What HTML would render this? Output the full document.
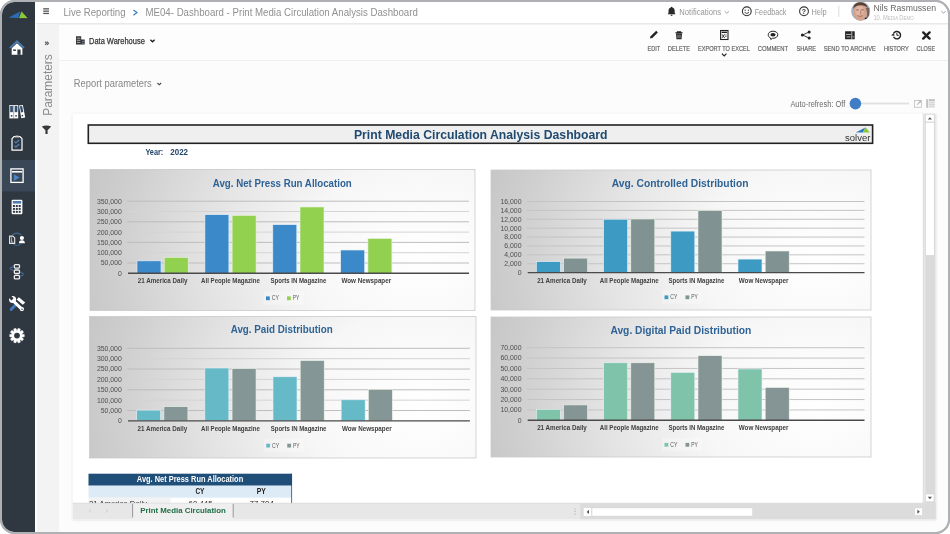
<!DOCTYPE html>
<html><head><meta charset="utf-8"><title>Print Media Circulation Analysis Dashboard</title>
<style>html,body{margin:0;padding:0;background:#fff;overflow:hidden;width:950px;height:534px}
svg{display:block;font-family:"Liberation Sans",sans-serif;will-change:transform}</style></head>
<body><svg width="950" height="534" viewBox="0 0 950 534">
<defs>
<clipPath id="frameclip"><rect x="2" y="2" width="946" height="530" rx="12.5" ry="12.5"/></clipPath>
<radialGradient id="cg" cx="0.86" cy="0.62" r="1" fx="0.86" fy="0.62" gradientTransform="translate(0.86 0.62) scale(1 2.2) translate(-0.86 -0.62)">
 <stop offset="0" stop-color="#ffffff"/>
 <stop offset="0.3" stop-color="#f7f7f7"/>
 <stop offset="0.55" stop-color="#e4e4e4"/>
 <stop offset="0.8" stop-color="#cecece"/>
 <stop offset="1" stop-color="#c0c0c0"/>
</radialGradient>
<linearGradient id="avatarg" x1="0" y1="0" x2="0" y2="1">
 <stop offset="0" stop-color="#6b5a50"/><stop offset="0.5" stop-color="#c99a80"/><stop offset="1" stop-color="#5a6a80"/>
</linearGradient>
<filter id="sh" x="-5%" y="-5%" width="110%" height="110%"><feDropShadow dx="0" dy="0.5" stdDeviation="1" flood-color="#000" flood-opacity="0.18"/></filter>
</defs>
<rect x="0.00" y="0.00" width="950.00" height="534.00" fill="#ffffff" />
<rect x="1" y="1" width="948" height="532" rx="13.5" ry="13.5" fill="#f8f8f8" stroke="#aeb0b4" stroke-width="2"/>
<g clip-path="url(#frameclip)">
<rect x="2.00" y="2.00" width="946.00" height="530.00" fill="#fcfcfc" />
<rect x="2.00" y="2.00" width="946.00" height="21.00" fill="#ffffff" />
<line x1="2.00" y1="23.60" x2="948.00" y2="23.60" stroke="#e9e9e9" stroke-width="1.2" />
<line x1="2.00" y1="24.70" x2="948.00" y2="24.70" stroke="#f1f1f1" stroke-width="1" />
<rect x="37.00" y="25.00" width="911.00" height="35.00" fill="#fdfdfd" />
<line x1="37.00" y1="60.50" x2="948.00" y2="60.50" stroke="#efefef" stroke-width="1" />
<rect x="2.00" y="2.00" width="33.00" height="530.00" fill="#2f3741" />
<rect x="2.00" y="160.00" width="33.00" height="31.50" fill="#3a4756" />
<line x1="35.60" y1="2.00" x2="35.60" y2="532.00" stroke="#ffffff" stroke-width="1.2" />
<rect x="37.20" y="24.00" width="21.90" height="508.00" fill="#f3f3f3" />
<rect x="43.20" y="8.20" width="5.80" height="1.30" fill="#555555" />
<rect x="43.20" y="10.50" width="5.80" height="1.30" fill="#555555" />
<rect x="43.20" y="12.80" width="5.80" height="1.30" fill="#555555" />
<text x="63.40" y="15.80" font-family="Liberation Sans" font-size="10.2" font-weight="normal" fill="#909090" text-anchor="start" textLength="62.10" lengthAdjust="spacingAndGlyphs" >Live Reporting</text>
<path d="M133.4 10 L137 12.6 L133.4 15.2" fill="none" stroke="#3d7fc2" stroke-width="1.2"/>
<text x="145.50" y="15.80" font-family="Liberation Sans" font-size="10.2" font-weight="normal" fill="#909090" text-anchor="start" textLength="272.30" lengthAdjust="spacingAndGlyphs" >ME04- Dashboard - Print Media Circulation Analysis Dashboard</text>
<path d="M671.6 6.8 c-0.5 0 -0.8 0.4 -0.8 0.8 c-1.6 0.4 -2.3 1.8 -2.3 3.3 v2.2 l-0.9 1.2 h8 l-0.9 -1.2 v-2.2 c0 -1.5 -0.7 -2.9 -2.3 -3.3 c0 -0.4 -0.3 -0.8 -0.8 -0.8z M670.5 14.8 a1.1 1.1 0 0 0 2.2 0z" fill="#2a2a2a"/>
<text x="679.30" y="14.90" font-family="Liberation Sans" font-size="8.6" font-weight="normal" fill="#969696" text-anchor="start" textLength="41.70" lengthAdjust="spacingAndGlyphs" >Notifications</text>
<path d="M724.6 11.3 l2.2 2 l2.2 -2" fill="none" stroke="#9a9a9a" stroke-width="0.9"/>
<circle cx="746.8" cy="11.3" r="4.4" fill="none" stroke="#333" stroke-width="1.1"/>
<circle cx="745.2" cy="10.2" r="0.65" fill="#333"/><circle cx="748.4" cy="10.2" r="0.65" fill="#333"/>
<path d="M744.6 12.3 q2.2 2.4 4.4 0" fill="none" stroke="#333" stroke-width="0.9"/>
<text x="754.70" y="14.90" font-family="Liberation Sans" font-size="8.6" font-weight="normal" fill="#969696" text-anchor="start" textLength="31.80" lengthAdjust="spacingAndGlyphs" >Feedback</text>
<circle cx="804" cy="11.3" r="4.4" fill="none" stroke="#333" stroke-width="1.1"/>
<text x="804.00" y="13.90" font-family="Liberation Sans" font-size="7" font-weight="bold" fill="#333" text-anchor="middle" >?</text>
<text x="811.50" y="14.90" font-family="Liberation Sans" font-size="8.6" font-weight="normal" fill="#969696" text-anchor="start" textLength="15.20" lengthAdjust="spacingAndGlyphs" >Help</text>
<line x1="838.80" y1="5.70" x2="838.80" y2="17.00" stroke="#dddddd" stroke-width="1" />
<clipPath id="avc"><circle cx="860.7" cy="11.2" r="9.5"/></clipPath>
<g clip-path="url(#avc)"><rect x="850" y="0" width="22" height="22" fill="#a9afbd"/>
<ellipse cx="860.3" cy="12.3" rx="6.6" ry="8.6" fill="#d5a28e"/>
<ellipse cx="859.6" cy="11" rx="4.2" ry="5.5" fill="#e2b4a2"/>
<path d="M853.2 9 q0 -6.8 7.2 -6.8 q6.6 0 7.6 6.6 q-1.8 -3.4 -7.4 -3.6 q-5.4 0.2 -7.4 3.8z" fill="#5a4236"/>
<path d="M865.6 8 q2.6 4 0.6 12 l3 0 v-12z" fill="#6b5046" opacity="0.8"/>
<path d="M856.3 9.9 h2.2 M861.3 9.9 h2.2" stroke="#7a5548" stroke-width="0.9"/>
<path d="M860.5 10.5 l0.6 3.5 h-1" fill="none" stroke="#a06e5e" stroke-width="0.7"/>
<path d="M857.5 15.6 q2.6 1.6 5 0" fill="none" stroke="#9a5e50" stroke-width="0.8"/>
<circle cx="866" cy="18.6" r="1.2" fill="#222"/></g>
<text x="873.40" y="10.90" font-family="Liberation Sans" font-size="8.8" font-weight="normal" fill="#666666" text-anchor="start" textLength="62.70" lengthAdjust="spacingAndGlyphs" >Nils Rasmussen</text>
<text x="873.4" y="19.8" font-family="Liberation Sans" fill="#bdbdbd" textLength="40.4" lengthAdjust="spacingAndGlyphs"><tspan font-size="6.4">10. M</tspan><tspan font-size="5">EDIA </tspan><tspan font-size="6.4">D</tspan><tspan font-size="5">EMO</tspan></text>
<path d="M941.3 11 l2.2 2.2 l2.2 -2.2" fill="none" stroke="#999" stroke-width="0.9"/>
<path d="M76 36.2 h5.2 v8.4 h-5.2z M81.2 39.4 h3.5 v5.2 h-3.5z" fill="#333"/>
<path d="M76.8 38.2 h3.6 M76.8 40.3 h3.6 M76.8 42.4 h3.6" stroke="#ddd" stroke-width="0.7"/>
<path d="M81.9 41.3 h2.1 M81.9 43.2 h2.1" stroke="#7d9cc8" stroke-width="0.8"/>
<text x="89.00" y="44.00" font-family="Liberation Sans" font-size="9" font-weight="normal" fill="#333333" text-anchor="start" textLength="55.80" lengthAdjust="spacingAndGlyphs" stroke="#333" stroke-width="0.25">Data Warehouse</text>
<path d="M150.4 39.7 l2.1 2.1 l2.1 -2.1" fill="none" stroke="#222" stroke-width="1.4"/>
<text x="647.60" y="51.20" font-family="Liberation Sans" font-size="7.5" font-weight="normal" fill="#606060" text-anchor="start" textLength="12.60" lengthAdjust="spacingAndGlyphs" stroke="#606060" stroke-width="0.18">EDIT</text>
<text x="667.80" y="51.20" font-family="Liberation Sans" font-size="7.5" font-weight="normal" fill="#606060" text-anchor="start" textLength="22.20" lengthAdjust="spacingAndGlyphs" stroke="#606060" stroke-width="0.18">DELETE</text>
<text x="698.00" y="51.20" font-family="Liberation Sans" font-size="7.5" font-weight="normal" fill="#606060" text-anchor="start" textLength="51.80" lengthAdjust="spacingAndGlyphs" stroke="#606060" stroke-width="0.18">EXPORT TO EXCEL</text>
<text x="757.80" y="51.20" font-family="Liberation Sans" font-size="7.5" font-weight="normal" fill="#606060" text-anchor="start" textLength="30.30" lengthAdjust="spacingAndGlyphs" stroke="#606060" stroke-width="0.18">COMMENT</text>
<text x="796.40" y="51.20" font-family="Liberation Sans" font-size="7.5" font-weight="normal" fill="#606060" text-anchor="start" textLength="19.70" lengthAdjust="spacingAndGlyphs" stroke="#606060" stroke-width="0.18">SHARE</text>
<text x="823.70" y="51.20" font-family="Liberation Sans" font-size="7.5" font-weight="normal" fill="#606060" text-anchor="start" textLength="52.20" lengthAdjust="spacingAndGlyphs" stroke="#606060" stroke-width="0.18">SEND TO ARCHIVE</text>
<text x="883.90" y="51.20" font-family="Liberation Sans" font-size="7.5" font-weight="normal" fill="#606060" text-anchor="start" textLength="24.80" lengthAdjust="spacingAndGlyphs" stroke="#606060" stroke-width="0.18">HISTORY</text>
<text x="916.60" y="51.20" font-family="Liberation Sans" font-size="7.5" font-weight="normal" fill="#606060" text-anchor="start" textLength="18.50" lengthAdjust="spacingAndGlyphs" stroke="#606060" stroke-width="0.18">CLOSE</text>
<path d="M650 38.6 l0.6 -2.3 l5.6 -5.6 l1.7 1.7 l-5.6 5.6z" fill="#222"/>
<path d="M675.4 32.2 h7.2 v1 h-7.2z M676.9 31.3 h4.2 v1 h-4.2z M676 33.6 h6 l-0.5 5.6 h-5z" fill="#222"/>
<path d="M677.8 34.6 v3.6 M679 34.6 v3.6 M680.2 34.6 v3.6" stroke="#fff" stroke-width="0.4"/>
<rect x="720.6" y="30.5" width="7.4" height="9" fill="none" stroke="#222" stroke-width="1.1"/>
<rect x="721.6" y="31.6" width="5.4" height="1.4" fill="#222"/>
<path d="M722 34.3 l2.6 3.6 M724.6 34.3 l-2.6 3.6" stroke="#222" stroke-width="0.9"/>
<path d="M725 35 h1.6 M725 36.6 h1.6" stroke="#222" stroke-width="0.6"/>
<path d="M721.9 53.6 l2.3 2.3 l2.3 -2.3" fill="none" stroke="#222" stroke-width="1.2"/>
<path d="M773 31.2 c-2.8 0 -4.8 1.6 -4.8 3.6 c0 1.4 0.9 2.5 2.3 3.1 l0.3 1.6 l1.6 -1.2 c0.2 0 0.4 0 0.6 0 c2.8 0 4.8 -1.6 4.8 -3.6 s-2 -3.5 -4.8 -3.5z" fill="none" stroke="#222" stroke-width="1"/>
<ellipse cx="773" cy="34.7" rx="2.6" ry="1.8" fill="#222"/>
<path d="M802.6 35 L809 32 M802.6 35 L809 38" stroke="#222" stroke-width="0.9"/>
<circle cx="802.4" cy="35" r="1.5" fill="#222"/><circle cx="809.2" cy="32" r="1.5" fill="#222"/><circle cx="809.2" cy="38" r="1.5" fill="#222"/>
<path d="M845.1 31.3 h9.6 v8 h-9.6z" fill="#222"/>
<path d="M851.8 31.3 v8 M846 34.4 h5 M846.6 36.9 h3.8 M852.6 36.9 h1.2" stroke="#fff" stroke-width="0.7"/>
<path d="M893.6 33.4 A3.7 3.7 0 1 1 893.5 36.8" fill="none" stroke="#222" stroke-width="1.4"/>
<path d="M896.9 32.9 v2.4 h1.9" fill="none" stroke="#222" stroke-width="1"/>
<path d="M891.2 35.4 l2.4 -2.4 l1 2.8z" fill="#222"/>
<path d="M923.2 32.4 l6.4 6.2 M929.6 32.4 l-6.4 6.2" stroke="#222" stroke-width="2.4" stroke-linecap="round"/>
<text x="73.80" y="87.30" font-family="Liberation Sans" font-size="10.6" font-weight="normal" fill="#878787" text-anchor="start" textLength="78.00" lengthAdjust="spacingAndGlyphs" >Report parameters</text>
<path d="M157.5 83 l1.8 1.8 l1.8 -1.8" fill="none" stroke="#444" stroke-width="1.1"/>
<text x="790.40" y="106.50" font-family="Liberation Sans" font-size="8.3" font-weight="normal" fill="#6a6a6a" text-anchor="start" textLength="54.90" lengthAdjust="spacingAndGlyphs" >Auto-refresh: Off</text>
<rect x="860.00" y="102.60" width="49.00" height="1.80" fill="#e0e0e0" />
<circle cx="855.4" cy="103.6" r="5.8" fill="#3f7dc4"/>
<rect x="914.5" y="100.4" width="6.9" height="6.9" fill="none" stroke="#c6c6c6" stroke-width="0.9"/>
<path d="M917.3 104.6 l3.4 -3.4" stroke="#b8b8b8" stroke-width="1.1"/>
<path d="M921.2 100.2 v3 l-3 -3z" fill="#b8b8b8"/>
<rect x="926.2" y="99.2" width="8.7" height="8.6" fill="#ececec"/>
<rect x="926.2" y="99.2" width="1.8" height="8.6" fill="#c2c2c2"/>
<rect x="928.9" y="99.2" width="6" height="1.9" fill="#c2c2c2"/>
<path d="M928.9 102.6 h6" stroke="#cfcfcf" stroke-width="0.8"/>
<path d="M928.9 104.5 h6" stroke="#cfcfcf" stroke-width="0.8"/>
<path d="M928.9 106.4 h6" stroke="#cfcfcf" stroke-width="0.8"/>
<path d="M930.9 101.6 v6.2 M932.9 101.6 v6.2" stroke="#d8d8d8" stroke-width="0.6"/>
<path d="M45.1 41.7 l1.5 1.6 l-1.5 1.6 M47 41.7 l1.5 1.6 l-1.5 1.6" fill="none" stroke="#555" stroke-width="1.05"/>
<text x="51.60" y="115.80" font-family="Liberation Sans" font-size="13" font-weight="normal" fill="#8a8a8a" text-anchor="start" textLength="61.60" lengthAdjust="spacingAndGlyphs" transform="rotate(-90 51.6 115.8)">Parameters</text>
<path d="M41.8 126.6 q4.7 -2.2 9.4 0 l-3.6 3.6 v3.8 h-2.2 v-3.8z" fill="#3a3a3a"/>
<rect x="72.8" y="113.8" width="863" height="405.4" fill="#ffffff" filter="url(#sh)"/>
<rect x="88.4" y="125" width="484.5" height="18.2" fill="none"/>
<rect x="88.3" y="125" width="784.3" height="18.3" fill="#efefef" stroke="#222" stroke-width="1.6"/>
<text x="353.90" y="138.70" font-family="Liberation Sans" font-size="12.6" font-weight="bold" fill="#214a70" text-anchor="start" textLength="253.70" lengthAdjust="spacingAndGlyphs" >Print Media Circulation Analysis Dashboard</text>
<path d="M855.8 132.6 L865.3 127.5 L862.8 132.6 Z" fill="#2e78c0"/>
<path d="M865.6 127.2 L869.8 132.6 L862.8 132.6 Z" fill="#8cc63f"/>
<text x="845.00" y="141.30" font-family="Liberation Sans" font-size="9.6" font-weight="normal" fill="#333333" text-anchor="start" textLength="25.40" lengthAdjust="spacingAndGlyphs" >solver</text>
<text x="145.40" y="154.60" font-family="Liberation Sans" font-size="8.3" font-weight="bold" fill="#24466b" text-anchor="start" textLength="17.90" lengthAdjust="spacingAndGlyphs" >Year:</text>
<text x="170.30" y="154.60" font-family="Liberation Sans" font-size="8.3" font-weight="bold" fill="#24466b" text-anchor="start" textLength="17.70" lengthAdjust="spacingAndGlyphs" >2022</text>
<rect x="90" y="169.5" width="385" height="141" fill="url(#cg)" stroke="#cacaca" stroke-width="0.8"/>
<text x="212.80" y="186.50" font-family="Liberation Sans" font-size="11.5" font-weight="bold" fill="#2f6395" text-anchor="start" textLength="139.00" lengthAdjust="spacingAndGlyphs" >Avg. Net Press Run Allocation</text>
<text x="121.80" y="275.70" font-family="Liberation Sans" font-size="6.9" font-weight="normal" fill="#4f4f4f" text-anchor="end" >0</text>
<line x1="127.20" y1="263.00" x2="469.00" y2="263.00" stroke="#bdbdbd" stroke-width="1" />
<text x="121.80" y="265.40" font-family="Liberation Sans" font-size="6.9" font-weight="normal" fill="#4f4f4f" text-anchor="end" >50,000</text>
<line x1="127.20" y1="252.70" x2="469.00" y2="252.70" stroke="#d4d4d4" stroke-width="1" />
<text x="121.80" y="255.10" font-family="Liberation Sans" font-size="6.9" font-weight="normal" fill="#4f4f4f" text-anchor="end" >100,000</text>
<line x1="127.20" y1="242.40" x2="469.00" y2="242.40" stroke="#bdbdbd" stroke-width="1" />
<text x="121.80" y="244.80" font-family="Liberation Sans" font-size="6.9" font-weight="normal" fill="#4f4f4f" text-anchor="end" >150,000</text>
<line x1="127.20" y1="232.10" x2="469.00" y2="232.10" stroke="#d4d4d4" stroke-width="1" />
<text x="121.80" y="234.50" font-family="Liberation Sans" font-size="6.9" font-weight="normal" fill="#4f4f4f" text-anchor="end" >200,000</text>
<line x1="127.20" y1="221.80" x2="469.00" y2="221.80" stroke="#bdbdbd" stroke-width="1" />
<text x="121.80" y="224.20" font-family="Liberation Sans" font-size="6.9" font-weight="normal" fill="#4f4f4f" text-anchor="end" >250,000</text>
<line x1="127.20" y1="211.50" x2="469.00" y2="211.50" stroke="#d4d4d4" stroke-width="1" />
<text x="121.80" y="213.90" font-family="Liberation Sans" font-size="6.9" font-weight="normal" fill="#4f4f4f" text-anchor="end" >300,000</text>
<line x1="127.20" y1="201.20" x2="469.00" y2="201.20" stroke="#bdbdbd" stroke-width="1" />
<text x="121.80" y="203.60" font-family="Liberation Sans" font-size="6.9" font-weight="normal" fill="#4f4f4f" text-anchor="end" >350,000</text>
<rect x="137.00" y="260.85" width="24.0" height="12.45" fill="#3b89c9" stroke="#e8f2fa" stroke-width="0.6"/>
<rect x="164.20" y="257.29" width="24.0" height="16.01" fill="#92d050" stroke="#eef6e8" stroke-width="0.6"/>
<text x="137.75" y="283.40" font-family="Liberation Sans" font-size="6.7" font-weight="bold" fill="#404040" text-anchor="start" textLength="49.70" lengthAdjust="spacingAndGlyphs" >21 America Daily</text>
<rect x="204.90" y="214.69" width="24.0" height="58.61" fill="#3b89c9" stroke="#e8f2fa" stroke-width="0.6"/>
<rect x="232.10" y="215.31" width="24.0" height="57.99" fill="#92d050" stroke="#eef6e8" stroke-width="0.6"/>
<text x="201.10" y="283.40" font-family="Liberation Sans" font-size="6.7" font-weight="bold" fill="#404040" text-anchor="start" textLength="58.80" lengthAdjust="spacingAndGlyphs" >All People Magazine</text>
<rect x="272.80" y="224.68" width="24.0" height="48.62" fill="#3b89c9" stroke="#e8f2fa" stroke-width="0.6"/>
<rect x="300.00" y="206.97" width="24.0" height="66.33" fill="#92d050" stroke="#eef6e8" stroke-width="0.6"/>
<text x="270.50" y="283.40" font-family="Liberation Sans" font-size="6.7" font-weight="bold" fill="#404040" text-anchor="start" textLength="55.80" lengthAdjust="spacingAndGlyphs" >Sports IN Magazine</text>
<rect x="340.70" y="250.02" width="24.0" height="23.28" fill="#3b89c9" stroke="#e8f2fa" stroke-width="0.6"/>
<rect x="367.90" y="238.49" width="24.0" height="34.81" fill="#92d050" stroke="#eef6e8" stroke-width="0.6"/>
<text x="341.45" y="283.40" font-family="Liberation Sans" font-size="6.7" font-weight="bold" fill="#404040" text-anchor="start" textLength="49.70" lengthAdjust="spacingAndGlyphs" >Wow Newspaper</text>
<line x1="128.00" y1="273.30" x2="469.00" y2="273.30" stroke="#4a4a4a" stroke-width="1.4" />
<rect x="263.50" y="291.30" width="40" height="13.5" fill="#ffffff" opacity="0.25"/>
<rect x="266.00" y="296.40" width="3.80" height="3.80" fill="#3b89c9" />
<text x="271.80" y="300.30" font-family="Liberation Sans" font-size="6.8" font-weight="normal" fill="#595959" text-anchor="start" textLength="7.10" lengthAdjust="spacingAndGlyphs" >CY</text>
<rect x="287.00" y="296.40" width="3.80" height="3.80" fill="#92d050" />
<text x="292.80" y="300.30" font-family="Liberation Sans" font-size="6.8" font-weight="normal" fill="#595959" text-anchor="start" textLength="6.60" lengthAdjust="spacingAndGlyphs" >PY</text>
<rect x="491" y="170" width="380" height="140" fill="url(#cg)" stroke="#cacaca" stroke-width="0.8"/>
<text x="611.80" y="186.90" font-family="Liberation Sans" font-size="11.5" font-weight="bold" fill="#2f6395" text-anchor="start" textLength="136.70" lengthAdjust="spacingAndGlyphs" >Avg. Controlled Distribution</text>
<text x="521.50" y="275.00" font-family="Liberation Sans" font-size="6.9" font-weight="normal" fill="#4f4f4f" text-anchor="end" >0</text>
<line x1="526.90" y1="263.71" x2="864.50" y2="263.71" stroke="#c4c4c4" stroke-width="1" />
<text x="521.50" y="266.11" font-family="Liberation Sans" font-size="6.9" font-weight="normal" fill="#4f4f4f" text-anchor="end" >2,000</text>
<line x1="526.90" y1="254.83" x2="864.50" y2="254.83" stroke="#c4c4c4" stroke-width="1" />
<text x="521.50" y="257.23" font-family="Liberation Sans" font-size="6.9" font-weight="normal" fill="#4f4f4f" text-anchor="end" >4,000</text>
<line x1="526.90" y1="245.94" x2="864.50" y2="245.94" stroke="#c4c4c4" stroke-width="1" />
<text x="521.50" y="248.34" font-family="Liberation Sans" font-size="6.9" font-weight="normal" fill="#4f4f4f" text-anchor="end" >6,000</text>
<line x1="526.90" y1="237.05" x2="864.50" y2="237.05" stroke="#c4c4c4" stroke-width="1" />
<text x="521.50" y="239.45" font-family="Liberation Sans" font-size="6.9" font-weight="normal" fill="#4f4f4f" text-anchor="end" >8,000</text>
<line x1="526.90" y1="228.16" x2="864.50" y2="228.16" stroke="#c4c4c4" stroke-width="1" />
<text x="521.50" y="230.56" font-family="Liberation Sans" font-size="6.9" font-weight="normal" fill="#4f4f4f" text-anchor="end" >10,000</text>
<line x1="526.90" y1="219.28" x2="864.50" y2="219.28" stroke="#c4c4c4" stroke-width="1" />
<text x="521.50" y="221.68" font-family="Liberation Sans" font-size="6.9" font-weight="normal" fill="#4f4f4f" text-anchor="end" >12,000</text>
<line x1="526.90" y1="210.39" x2="864.50" y2="210.39" stroke="#c4c4c4" stroke-width="1" />
<text x="521.50" y="212.79" font-family="Liberation Sans" font-size="6.9" font-weight="normal" fill="#4f4f4f" text-anchor="end" >14,000</text>
<line x1="526.90" y1="201.50" x2="864.50" y2="201.50" stroke="#c4c4c4" stroke-width="1" />
<text x="521.50" y="203.90" font-family="Liberation Sans" font-size="6.9" font-weight="normal" fill="#4f4f4f" text-anchor="end" >16,000</text>
<rect x="536.40" y="261.60" width="24.0" height="11.00" fill="#3d9bc3" stroke="#e8f2fa" stroke-width="0.6"/>
<rect x="563.60" y="258.11" width="24.0" height="14.49" fill="#809292" stroke="#eef6e8" stroke-width="0.6"/>
<text x="537.15" y="282.70" font-family="Liberation Sans" font-size="6.7" font-weight="bold" fill="#404040" text-anchor="start" textLength="49.70" lengthAdjust="spacingAndGlyphs" >21 America Daily</text>
<rect x="603.60" y="219.23" width="24.0" height="53.37" fill="#3d9bc3" stroke="#e8f2fa" stroke-width="0.6"/>
<rect x="630.80" y="219.01" width="24.0" height="53.59" fill="#809292" stroke="#eef6e8" stroke-width="0.6"/>
<text x="599.80" y="282.70" font-family="Liberation Sans" font-size="6.7" font-weight="bold" fill="#404040" text-anchor="start" textLength="58.80" lengthAdjust="spacingAndGlyphs" >All People Magazine</text>
<rect x="670.80" y="231.10" width="24.0" height="41.50" fill="#3d9bc3" stroke="#e8f2fa" stroke-width="0.6"/>
<rect x="698.00" y="210.52" width="24.0" height="62.08" fill="#809292" stroke="#eef6e8" stroke-width="0.6"/>
<text x="668.50" y="282.70" font-family="Liberation Sans" font-size="6.7" font-weight="bold" fill="#404040" text-anchor="start" textLength="55.80" lengthAdjust="spacingAndGlyphs" >Sports IN Magazine</text>
<rect x="738.00" y="259.09" width="24.0" height="13.51" fill="#3d9bc3" stroke="#e8f2fa" stroke-width="0.6"/>
<rect x="765.20" y="251.00" width="24.0" height="21.60" fill="#809292" stroke="#eef6e8" stroke-width="0.6"/>
<text x="738.75" y="282.70" font-family="Liberation Sans" font-size="6.7" font-weight="bold" fill="#404040" text-anchor="start" textLength="49.70" lengthAdjust="spacingAndGlyphs" >Wow Newspaper</text>
<line x1="527.70" y1="272.60" x2="864.50" y2="272.60" stroke="#4a4a4a" stroke-width="1.4" />
<rect x="662.00" y="290.30" width="40" height="13.5" fill="#ffffff" opacity="0.25"/>
<rect x="664.50" y="295.40" width="3.80" height="3.80" fill="#3d9bc3" />
<text x="670.30" y="299.30" font-family="Liberation Sans" font-size="6.8" font-weight="normal" fill="#595959" text-anchor="start" textLength="7.10" lengthAdjust="spacingAndGlyphs" >CY</text>
<rect x="685.50" y="295.40" width="3.80" height="3.80" fill="#809292" />
<text x="691.30" y="299.30" font-family="Liberation Sans" font-size="6.8" font-weight="normal" fill="#595959" text-anchor="start" textLength="6.60" lengthAdjust="spacingAndGlyphs" >PY</text>
<rect x="89.5" y="316.5" width="386.5" height="141.5" fill="url(#cg)" stroke="#cacaca" stroke-width="0.8"/>
<text x="230.70" y="333.30" font-family="Liberation Sans" font-size="11.5" font-weight="bold" fill="#2f6395" text-anchor="start" textLength="102.10" lengthAdjust="spacingAndGlyphs" >Avg. Paid Distribution</text>
<text x="121.80" y="423.30" font-family="Liberation Sans" font-size="6.9" font-weight="normal" fill="#4f4f4f" text-anchor="end" >0</text>
<line x1="127.20" y1="410.53" x2="469.90" y2="410.53" stroke="#bdbdbd" stroke-width="1" />
<text x="121.80" y="412.93" font-family="Liberation Sans" font-size="6.9" font-weight="normal" fill="#4f4f4f" text-anchor="end" >50,000</text>
<line x1="127.20" y1="400.16" x2="469.90" y2="400.16" stroke="#d4d4d4" stroke-width="1" />
<text x="121.80" y="402.56" font-family="Liberation Sans" font-size="6.9" font-weight="normal" fill="#4f4f4f" text-anchor="end" >100,000</text>
<line x1="127.20" y1="389.79" x2="469.90" y2="389.79" stroke="#bdbdbd" stroke-width="1" />
<text x="121.80" y="392.19" font-family="Liberation Sans" font-size="6.9" font-weight="normal" fill="#4f4f4f" text-anchor="end" >150,000</text>
<line x1="127.20" y1="379.41" x2="469.90" y2="379.41" stroke="#d4d4d4" stroke-width="1" />
<text x="121.80" y="381.81" font-family="Liberation Sans" font-size="6.9" font-weight="normal" fill="#4f4f4f" text-anchor="end" >200,000</text>
<line x1="127.20" y1="369.04" x2="469.90" y2="369.04" stroke="#bdbdbd" stroke-width="1" />
<text x="121.80" y="371.44" font-family="Liberation Sans" font-size="6.9" font-weight="normal" fill="#4f4f4f" text-anchor="end" >250,000</text>
<line x1="127.20" y1="358.67" x2="469.90" y2="358.67" stroke="#d4d4d4" stroke-width="1" />
<text x="121.80" y="361.07" font-family="Liberation Sans" font-size="6.9" font-weight="normal" fill="#4f4f4f" text-anchor="end" >300,000</text>
<line x1="127.20" y1="348.30" x2="469.90" y2="348.30" stroke="#bdbdbd" stroke-width="1" />
<text x="121.80" y="350.70" font-family="Liberation Sans" font-size="6.9" font-weight="normal" fill="#4f4f4f" text-anchor="end" >350,000</text>
<rect x="136.70" y="410.11" width="24.0" height="10.79" fill="#66b9c6" stroke="#e8f2fa" stroke-width="0.6"/>
<rect x="163.90" y="406.69" width="24.0" height="14.21" fill="#859696" stroke="#eef6e8" stroke-width="0.6"/>
<text x="137.45" y="431.00" font-family="Liberation Sans" font-size="6.7" font-weight="bold" fill="#404040" text-anchor="start" textLength="49.70" lengthAdjust="spacingAndGlyphs" >21 America Daily</text>
<rect x="204.85" y="368.01" width="24.0" height="52.89" fill="#66b9c6" stroke="#e8f2fa" stroke-width="0.6"/>
<rect x="232.05" y="368.63" width="24.0" height="52.27" fill="#859696" stroke="#eef6e8" stroke-width="0.6"/>
<text x="201.05" y="431.00" font-family="Liberation Sans" font-size="6.7" font-weight="bold" fill="#404040" text-anchor="start" textLength="58.80" lengthAdjust="spacingAndGlyphs" >All People Magazine</text>
<rect x="273.00" y="376.80" width="24.0" height="44.10" fill="#66b9c6" stroke="#e8f2fa" stroke-width="0.6"/>
<rect x="300.20" y="360.54" width="24.0" height="60.36" fill="#859696" stroke="#eef6e8" stroke-width="0.6"/>
<text x="270.70" y="431.00" font-family="Liberation Sans" font-size="6.7" font-weight="bold" fill="#404040" text-anchor="start" textLength="55.80" lengthAdjust="spacingAndGlyphs" >Sports IN Magazine</text>
<rect x="341.15" y="399.80" width="24.0" height="21.10" fill="#66b9c6" stroke="#e8f2fa" stroke-width="0.6"/>
<rect x="368.35" y="389.39" width="24.0" height="31.51" fill="#859696" stroke="#eef6e8" stroke-width="0.6"/>
<text x="341.90" y="431.00" font-family="Liberation Sans" font-size="6.7" font-weight="bold" fill="#404040" text-anchor="start" textLength="49.70" lengthAdjust="spacingAndGlyphs" >Wow Newspaper</text>
<line x1="128.00" y1="420.90" x2="469.90" y2="420.90" stroke="#4a4a4a" stroke-width="1.4" />
<rect x="263.75" y="438.60" width="40" height="13.5" fill="#ffffff" opacity="0.25"/>
<rect x="266.25" y="443.70" width="3.80" height="3.80" fill="#66b9c6" />
<text x="272.05" y="447.60" font-family="Liberation Sans" font-size="6.8" font-weight="normal" fill="#595959" text-anchor="start" textLength="7.10" lengthAdjust="spacingAndGlyphs" >CY</text>
<rect x="287.25" y="443.70" width="3.80" height="3.80" fill="#859696" />
<text x="293.05" y="447.60" font-family="Liberation Sans" font-size="6.8" font-weight="normal" fill="#595959" text-anchor="start" textLength="6.60" lengthAdjust="spacingAndGlyphs" >PY</text>
<rect x="491" y="317" width="380" height="140" fill="url(#cg)" stroke="#cacaca" stroke-width="0.8"/>
<text x="610.40" y="333.50" font-family="Liberation Sans" font-size="11.5" font-weight="bold" fill="#2f6395" text-anchor="start" textLength="140.90" lengthAdjust="spacingAndGlyphs" >Avg. Digital Paid Distribution</text>
<text x="521.50" y="422.70" font-family="Liberation Sans" font-size="6.9" font-weight="normal" fill="#4f4f4f" text-anchor="end" >0</text>
<line x1="526.90" y1="409.93" x2="864.50" y2="409.93" stroke="#c4c4c4" stroke-width="1" />
<text x="521.50" y="412.33" font-family="Liberation Sans" font-size="6.9" font-weight="normal" fill="#4f4f4f" text-anchor="end" >10,000</text>
<line x1="526.90" y1="399.56" x2="864.50" y2="399.56" stroke="#c4c4c4" stroke-width="1" />
<text x="521.50" y="401.96" font-family="Liberation Sans" font-size="6.9" font-weight="normal" fill="#4f4f4f" text-anchor="end" >20,000</text>
<line x1="526.90" y1="389.19" x2="864.50" y2="389.19" stroke="#c4c4c4" stroke-width="1" />
<text x="521.50" y="391.59" font-family="Liberation Sans" font-size="6.9" font-weight="normal" fill="#4f4f4f" text-anchor="end" >30,000</text>
<line x1="526.90" y1="378.81" x2="864.50" y2="378.81" stroke="#c4c4c4" stroke-width="1" />
<text x="521.50" y="381.21" font-family="Liberation Sans" font-size="6.9" font-weight="normal" fill="#4f4f4f" text-anchor="end" >40,000</text>
<line x1="526.90" y1="368.44" x2="864.50" y2="368.44" stroke="#c4c4c4" stroke-width="1" />
<text x="521.50" y="370.84" font-family="Liberation Sans" font-size="6.9" font-weight="normal" fill="#4f4f4f" text-anchor="end" >50,000</text>
<line x1="526.90" y1="358.07" x2="864.50" y2="358.07" stroke="#c4c4c4" stroke-width="1" />
<text x="521.50" y="360.47" font-family="Liberation Sans" font-size="6.9" font-weight="normal" fill="#4f4f4f" text-anchor="end" >60,000</text>
<line x1="526.90" y1="347.70" x2="864.50" y2="347.70" stroke="#c4c4c4" stroke-width="1" />
<text x="521.50" y="350.10" font-family="Liberation Sans" font-size="6.9" font-weight="normal" fill="#4f4f4f" text-anchor="end" >70,000</text>
<rect x="536.40" y="409.31" width="24.0" height="10.99" fill="#7fc4aa" stroke="#e8f2fa" stroke-width="0.6"/>
<rect x="563.60" y="404.90" width="24.0" height="15.40" fill="#859595" stroke="#eef6e8" stroke-width="0.6"/>
<text x="537.15" y="430.40" font-family="Liberation Sans" font-size="6.7" font-weight="bold" fill="#404040" text-anchor="start" textLength="49.70" lengthAdjust="spacingAndGlyphs" >21 America Daily</text>
<rect x="603.60" y="362.79" width="24.0" height="57.51" fill="#7fc4aa" stroke="#e8f2fa" stroke-width="0.6"/>
<rect x="630.80" y="362.79" width="24.0" height="57.51" fill="#859595" stroke="#eef6e8" stroke-width="0.6"/>
<text x="599.80" y="430.40" font-family="Liberation Sans" font-size="6.7" font-weight="bold" fill="#404040" text-anchor="start" textLength="58.80" lengthAdjust="spacingAndGlyphs" >All People Magazine</text>
<rect x="670.80" y="372.38" width="24.0" height="47.92" fill="#7fc4aa" stroke="#e8f2fa" stroke-width="0.6"/>
<rect x="698.00" y="355.69" width="24.0" height="64.61" fill="#859595" stroke="#eef6e8" stroke-width="0.6"/>
<text x="668.50" y="430.40" font-family="Liberation Sans" font-size="6.7" font-weight="bold" fill="#404040" text-anchor="start" textLength="55.80" lengthAdjust="spacingAndGlyphs" >Sports IN Magazine</text>
<rect x="738.00" y="368.96" width="24.0" height="51.34" fill="#7fc4aa" stroke="#e8f2fa" stroke-width="0.6"/>
<rect x="765.20" y="387.53" width="24.0" height="32.77" fill="#859595" stroke="#eef6e8" stroke-width="0.6"/>
<text x="738.75" y="430.40" font-family="Liberation Sans" font-size="6.7" font-weight="bold" fill="#404040" text-anchor="start" textLength="49.70" lengthAdjust="spacingAndGlyphs" >Wow Newspaper</text>
<line x1="527.70" y1="420.30" x2="864.50" y2="420.30" stroke="#4a4a4a" stroke-width="1.4" />
<rect x="662.00" y="437.80" width="40" height="13.5" fill="#ffffff" opacity="0.25"/>
<rect x="664.50" y="442.90" width="3.80" height="3.80" fill="#7fc4aa" />
<text x="670.30" y="446.80" font-family="Liberation Sans" font-size="6.8" font-weight="normal" fill="#595959" text-anchor="start" textLength="7.10" lengthAdjust="spacingAndGlyphs" >CY</text>
<rect x="685.50" y="442.90" width="3.80" height="3.80" fill="#859595" />
<text x="691.30" y="446.80" font-family="Liberation Sans" font-size="6.8" font-weight="normal" fill="#595959" text-anchor="start" textLength="6.60" lengthAdjust="spacingAndGlyphs" >PY</text>
<rect x="88.50" y="473.70" width="203.50" height="12.00" fill="#1f4e78" />
<text x="136.80" y="482.30" font-family="Liberation Sans" font-size="8.2" font-weight="bold" fill="#ffffff" text-anchor="start" textLength="106.40" lengthAdjust="spacingAndGlyphs" >Avg. Net Press Run Allocation</text>
<rect x="88.50" y="485.70" width="203.50" height="12.00" fill="#ddebf7" />
<line x1="291.60" y1="473.70" x2="291.60" y2="503.00" stroke="#1f4e78" stroke-width="0.8" />
<text x="195.40" y="494.10" font-family="Liberation Sans" font-size="8.2" font-weight="bold" fill="#222" text-anchor="start" textLength="9.10" lengthAdjust="spacingAndGlyphs" >CY</text>
<text x="256.80" y="494.10" font-family="Liberation Sans" font-size="8.2" font-weight="bold" fill="#222" text-anchor="start" textLength="9.10" lengthAdjust="spacingAndGlyphs" >PY</text>
<rect x="88.50" y="497.70" width="82.00" height="6.00" fill="#f2f2f2" />
<text x="89.00" y="506.30" font-family="Liberation Sans" font-size="8" font-weight="normal" fill="#222" text-anchor="start" textLength="58.00" lengthAdjust="spacingAndGlyphs" >21 America Daily</text>
<text x="188.60" y="506.30" font-family="Liberation Sans" font-size="8" font-weight="normal" fill="#222" text-anchor="start" textLength="23.90" lengthAdjust="spacingAndGlyphs" >60,445</text>
<text x="249.50" y="506.30" font-family="Liberation Sans" font-size="8" font-weight="normal" fill="#222" text-anchor="start" textLength="24.40" lengthAdjust="spacingAndGlyphs" >77,704</text>
<rect x="923.00" y="113.80" width="12.90" height="389.20" fill="#e6e6e6" />
<rect x="925.60" y="113.80" width="9.20" height="389.20" fill="#dadada" />
<line x1="923.20" y1="113.50" x2="923.20" y2="503.00" stroke="#d6d6d6" stroke-width="0.6" />
<rect x="925.6" y="114.3" width="8.6" height="7.6" fill="#ffffff" stroke="#d0d0d0" stroke-width="0.5"/>
<path d="M927.8 119.6 l2.1 -2.4 l2.1 2.4z" fill="#555"/>
<rect x="925.6" y="122.4" width="8.6" height="133" fill="#ffffff" stroke="#d0d0d0" stroke-width="0.5"/>
<rect x="925.8" y="494" width="8.2" height="7.8" fill="#ffffff" stroke="#d0d0d0" stroke-width="0.5"/>
<path d="M927.8 496.8 l2.1 2.4 l2.1 -2.4z" fill="#555"/>
<rect x="72.80" y="503.00" width="863.00" height="16.20" fill="#e7e7e7" />
<line x1="72.80" y1="503.20" x2="935.80" y2="503.20" stroke="#d4d4d4" stroke-width="0.6" />
<rect x="580.00" y="503.40" width="355.80" height="15.80" fill="#dcdcdc" />
<rect x="583.2" y="507.7" width="8.6" height="8.6" fill="#fff" stroke="#d0d0d0" stroke-width="0.5"/>
<path d="M589 509.8 l-2.4 2.1 l2.4 2.1z" fill="#555"/>
<rect x="592" y="507.9" width="160.7" height="8.2" fill="#fff" stroke="#d0d0d0" stroke-width="0.5"/>
<rect x="914.8" y="507.9" width="7.6" height="7.6" fill="#fff" stroke="#d0d0d0" stroke-width="0.5"/>
<path d="M917.4 509.6 l2.4 2.1 l-2.4 2.1z" fill="#555"/>
<circle cx="575" cy="509" r="0.55" fill="#999"/>
<circle cx="575" cy="511.5" r="0.55" fill="#999"/>
<circle cx="575" cy="514" r="0.55" fill="#999"/>
<rect x="133.10" y="503.60" width="99.70" height="15.40" fill="#efefef" />
<path d="M132.6 503.8 v13.6 M233.2 503.8 v13.6" stroke="#8e8e8e" stroke-width="0.9"/>
<text x="140.20" y="512.90" font-family="Liberation Sans" font-size="7.6" font-weight="bold" fill="#1f6e43" text-anchor="start" textLength="85.60" lengthAdjust="spacingAndGlyphs" >Print Media Circulation</text>
<path d="M91 509.2 l-1.5 1.7 l1.5 1.7 M106 509.2 l1.5 1.7 l-1.5 1.7" fill="none" stroke="#c0c0c0" stroke-width="0.7"/>
<path d="M8.6 17.4 L20.6 11.2 L18.6 18.2 Z" fill="#2a6db5"/>
<path d="M21.4 10.8 L28.4 18.6 L18.4 18.6 Z" fill="#8cc63f" stroke="#1c2228" stroke-width="0.6"/>
<path d="M10 47.9 L17 41.2 L24 47.9" fill="none" stroke="#4a7aae" stroke-width="1.9"/>
<path d="M11.7 48.2 L17 43.3 L22.4 48.2 V54.7 H11.7Z" fill="#ffffff"/>
<rect x="13.1" y="49.5" width="2.9" height="1.4" fill="#2f3741"/>
<rect x="17.4" y="49.5" width="3.2" height="5.3" fill="#2f3741"/>
<rect x="9.4" y="105" width="4.3" height="13.4" fill="#ffffff"/>
<rect x="10.200000000000001" y="105.8" width="2.7" height="6.4" fill="#34506f"/>
<rect x="10.8" y="115.1" width="1.5" height="1.5" fill="#2f3741"/>
<rect x="13.9" y="105" width="4.3" height="13.4" fill="#ffffff"/>
<rect x="14.700000000000001" y="105.8" width="2.7" height="6.4" fill="#34506f"/>
<rect x="15.3" y="115.1" width="1.5" height="1.5" fill="#2f3741"/>
<path d="M13.75 105 v13.4" stroke="#9aa4b0" stroke-width="0.5"/>
<path d="M19 105.6 l3.9 -0.7 l2.3 12.6 l-3.9 0.7z" fill="#ffffff"/>
<path d="M19.9 106.3 l2.3 -0.4 l1.1 6.1 l-2.3 0.4z" fill="#34506f"/>
<rect x="21.6" y="115" width="1.5" height="1.5" fill="#2f3741" transform="rotate(-10 22.3 115.7)"/>
<path d="M12 138.6 L14.2 136.5 H19.8 L22 138.6 V150.2 H12 Z" fill="none" stroke="#ffffff" stroke-width="1.2" stroke-linejoin="round"/>
<path d="M14.8 137.4 L15.6 135.4 H18.4 L19.2 137.4 Z" fill="#c8c8c8"/>
<path d="M14.4 141.4 l1.5 1.5 l3.4 -3.1 M14.4 145.6 l1.5 1.5 l3.4 -3.1" fill="none" stroke="#4f7fb3" stroke-width="1.3"/>
<rect x="10.9" y="168.9" width="12.2" height="13.5" fill="none" stroke="#ffffff" stroke-width="1.3"/>
<rect x="11.8" y="171" width="10.4" height="1.6" fill="#ffffff"/>
<path d="M13.8 174.2 L19.6 177.6 L13.8 181 Z" fill="#4a85c6"/>
<rect x="11.6" y="199.8" width="10.8" height="14.5" rx="1.2" fill="#ffffff"/>
<rect x="12.8" y="201" width="8.4" height="2.6" fill="#4f7db0"/>
<rect x="12.9" y="205.0" width="2" height="2" fill="#2f3741"/>
<rect x="15.8" y="205.0" width="2" height="2" fill="#2f3741"/>
<rect x="18.7" y="205.0" width="2" height="2" fill="#2f3741"/>
<rect x="12.9" y="207.9" width="2" height="2" fill="#2f3741"/>
<rect x="15.8" y="207.9" width="2" height="2" fill="#2f3741"/>
<rect x="18.7" y="207.9" width="2" height="2" fill="#2f3741"/>
<rect x="12.9" y="210.8" width="2" height="2" fill="#2f3741"/>
<rect x="15.8" y="210.8" width="2" height="2" fill="#2f3741"/>
<rect x="18.7" y="210.8" width="2" height="2" fill="#2f3741"/>
<circle cx="16.8" cy="239.2" r="6.1" fill="none" stroke="#3f6a96" stroke-width="1.1"/>
<rect x="8.5" y="235" width="17" height="9.4" fill="#2f3741"/>
<path d="M9.6 236.1 h3.3 l1.8 1.8 v5.5 h-5.1z" fill="none" stroke="#e8e8e8" stroke-width="1.1" stroke-linejoin="round"/>
<path d="M11.6 237.4 v4.6 h1.6" fill="none" stroke="#e8e8e8" stroke-width="0.7"/>
<circle cx="21.9" cy="238" r="2.1" fill="#ffffff"/>
<path d="M18.9 243.2 q0 -3 3 -3 q3 0 3 3z" fill="#ffffff"/>
<path d="M13.3 266.8 q-3.3 0.5 -3.3 1.8 q0 1.2 3.3 1.7 M10 268.6 l1 -1.1" fill="none" stroke="#4a76a6" stroke-width="1"/>
<path d="M20.4 272.6 q3.4 0.5 3.4 1.7 q0 1.2 -3.4 1.6" fill="none" stroke="#4a76a6" stroke-width="1"/>
<rect x="14.3" y="264.6" width="5.2" height="3.5" rx="1" fill="#2f3741" stroke="#eeeeee" stroke-width="1.3"/>
<rect x="14.3" y="270.0" width="5.2" height="3.5" rx="1" fill="#2f3741" stroke="#eeeeee" stroke-width="1.3"/>
<rect x="14.3" y="275.4" width="5.2" height="3.5" rx="1" fill="#2f3741" stroke="#eeeeee" stroke-width="1.3"/>
<path d="M11.2 309.4 L16.6 304" stroke="#4279b8" stroke-width="3" stroke-linecap="round"/>
<polygon points="16.6,299.6 18.9,297.3 25.2,302.4 22.8,304.7" fill="#ffffff"/>
<path d="M14.2 301.8 L21.9 309.2" stroke="#ffffff" stroke-width="3.1" stroke-linecap="round"/>
<circle cx="21.9" cy="309.1" r="2.1" fill="#ffffff"/><circle cx="22" cy="309.2" r="0.75" fill="#2f3741"/>
<circle cx="12.6" cy="299.6" r="3.5" fill="#ffffff"/>
<polygon points="8.6,297.6 10.8,295.4 13.6,298.2 11.4,300.4" fill="#2f3741"/>
<polygon points="18.14,328.29 20.38,329.02 19.90,331.40 20.10,331.55 22.22,330.35 23.60,332.26 21.81,333.91 21.89,334.14 24.31,334.42 24.31,336.78 21.89,337.06 21.81,337.29 23.60,338.94 22.22,340.85 20.10,339.65 19.90,339.80 20.38,342.18 18.14,342.91 17.12,340.70 16.88,340.70 15.86,342.91 13.62,342.18 14.10,339.80 13.90,339.65 11.78,340.85 10.40,338.94 12.19,337.29 12.11,337.06 9.69,336.78 9.69,334.42 12.11,334.14 12.19,333.91 10.40,332.26 11.78,330.35 13.90,331.55 14.10,331.40 13.62,329.02 15.86,328.29 16.88,330.50 17.12,330.50" fill="#ffffff" stroke="#ffffff" stroke-width="0.4" stroke-linejoin="round"/>
<circle cx="17.0" cy="335.6" r="2.9" fill="#2f3741"/>
</g>
<rect x="1" y="1" width="948" height="532" rx="13.5" ry="13.5" fill="none" stroke="#aeb0b4" stroke-width="2"/>
</svg></body></html>
